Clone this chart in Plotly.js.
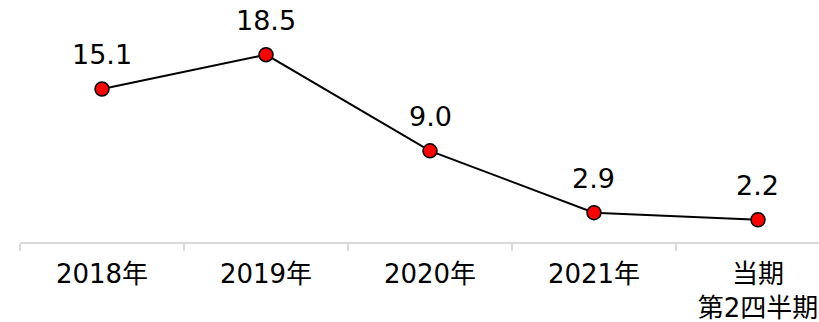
<!DOCTYPE html>
<html>
<head>
<meta charset="utf-8">
<script src="https://cdn.plot.ly/plotly-3.0.1.min.js"></script>
<style>
  html, body { margin: 0; padding: 0; background: #ffffff; }
  #chart { width: 819px; height: 322px; }
</style>
</head>
<body>
<div id="chart"></div>
<script>
// Period labels along the category axis
const periods = ['2018年', '2019年', '2020年', '2021年', '当期<br>第2四半期'];
// Values for each period
const values = [15.1, 18.5, 9.0, 2.9, 2.2];

const FONT = '"DejaVu Sans", "Noto Sans CJK JP", sans-serif';

const trace = {
  type: 'scatter',
  mode: 'lines+markers',
  x: periods,
  y: values,
  line: { color: '#000000', width: 2 },
  marker: { color: '#ff0000', size: 14, line: { color: '#000000', width: 1.5 } },
  hoverinfo: 'skip',
  cliponaxis: false
};

// Value labels above each point
const labels = periods.map((p, i) => ({
  x: p,
  y: values[i],
  text: values[i].toFixed(1),
  showarrow: false,
  xanchor: 'center',
  yanchor: 'bottom',
  yshift: 17,
  font: { family: FONT, size: 27, color: '#000000' }
}));

const layout = {
  width: 819,
  height: 322,
  margin: { l: 20, r: 0, t: 0, b: 80 },
  paper_bgcolor: '#ffffff',
  plot_bgcolor: '#ffffff',
  showlegend: false,
  xaxis: {
    type: 'category',
    range: [-0.5, 4.372],
    showline: true,
    linecolor: '#d9d9d9',
    linewidth: 1.5,
    showgrid: false,
    zeroline: false,
    ticks: 'outside',
    tickson: 'boundaries',
    ticklen: 7,
    tickwidth: 1.5,
    tickcolor: '#d9d9d9',
    ticklabelstandoff: 8,
    tickfont: { family: FONT, size: 26, color: '#000000' },
    fixedrange: true
  },
  yaxis: {
    range: [0, 23.9],
    visible: false,
    showgrid: false,
    zeroline: false,
    fixedrange: true
  },
  annotations: labels
};

Plotly.newPlot('chart', [trace], layout, { displayModeBar: false, staticPlot: true });
</script>
</body>
</html>
